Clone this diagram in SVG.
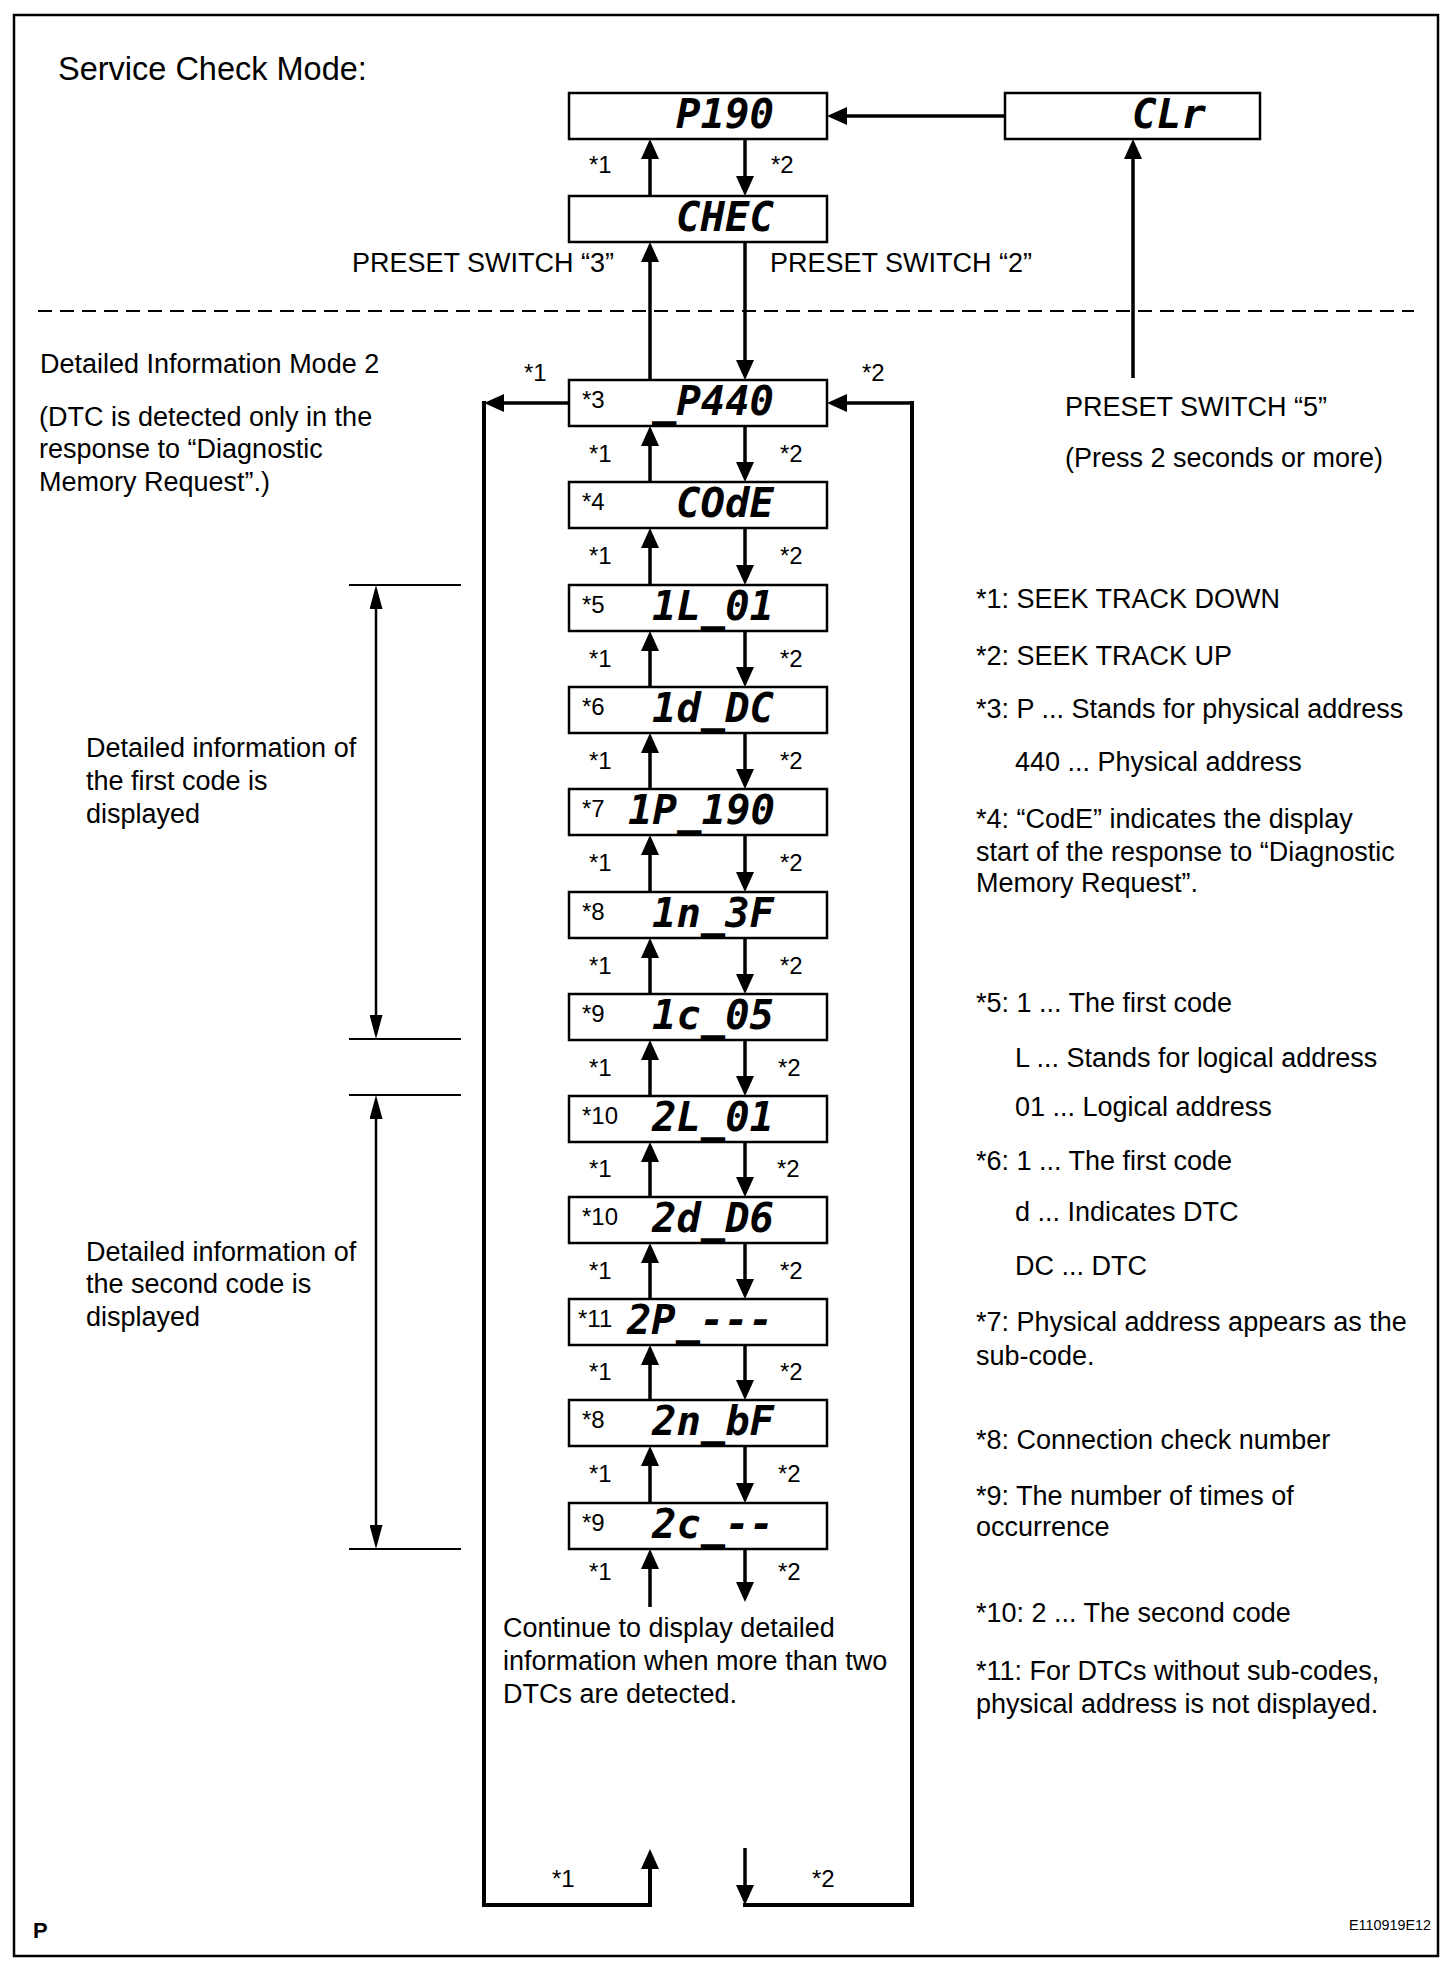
<svg xmlns="http://www.w3.org/2000/svg" width="1456" height="1980" viewBox="0 0 1456 1980">
<style>
.box{fill:#fff;stroke:#000;stroke-width:2.5}
.lcd{font-family:"DejaVu Sans Mono",monospace;font-style:italic;font-weight:bold;font-size:41px;fill:#000}
.t{font-family:"Liberation Sans",Arial,sans-serif;font-size:27px;fill:#000}
.s{font-size:24px}
.big{font-size:32.5px}
.c{stroke:#000;stroke-width:3.5;fill:none}
.loop{stroke:#000;stroke-width:4;fill:none;stroke-linecap:square;stroke-linejoin:miter}
.br{stroke:#000;stroke-width:2.5;fill:none}
.tick{stroke:#000;stroke-width:1.8}
</style>
<defs>
<marker id="ah" viewBox="0 0 20 18" refX="10" refY="9" markerWidth="20" markerHeight="18" orient="auto" markerUnits="userSpaceOnUse"><path d="M0,0 L20,9 L0,18 z" fill="#000"/></marker>
<marker id="ahs" viewBox="0 0 24 13" refX="12" refY="6.5" markerWidth="24" markerHeight="13" orient="auto-start-reverse" markerUnits="userSpaceOnUse"><path d="M0,0 L24,6.5 L0,13 z" fill="#000"/></marker>
</defs>
<rect x="14" y="15" width="1424" height="1941" fill="#fff" stroke="#000" stroke-width="2.5"/>

<text class="t big" x="58" y="80">Service Check Mode:</text>
<line x1="38" y1="311" x2="1414" y2="311" stroke="#000" stroke-width="2" stroke-dasharray="14 8"/>

<g id="connectors">
<line class="c" x1="745" y1="139" x2="745" y2="186" marker-end="url(#ah)"/>
<line class="c" x1="650" y1="196" x2="650" y2="149" marker-end="url(#ah)"/>
<line class="c" x1="1005" y1="116" x2="837" y2="116" marker-end="url(#ah)"/>
<line class="c" x1="1133" y1="378" x2="1133" y2="149" marker-end="url(#ah)"/>
<line class="c" x1="745" y1="242" x2="745" y2="370" marker-end="url(#ah)"/>
<line class="c" x1="650" y1="380" x2="650" y2="252" marker-end="url(#ah)"/>
<line class="c" x1="745" y1="426" x2="745" y2="472" marker-end="url(#ah)"/>
<line class="c" x1="650" y1="482" x2="650" y2="436" marker-end="url(#ah)"/>
<line class="c" x1="745" y1="528" x2="745" y2="575" marker-end="url(#ah)"/>
<line class="c" x1="650" y1="585" x2="650" y2="538" marker-end="url(#ah)"/>
<line class="c" x1="745" y1="631" x2="745" y2="677" marker-end="url(#ah)"/>
<line class="c" x1="650" y1="687" x2="650" y2="641" marker-end="url(#ah)"/>
<line class="c" x1="745" y1="733" x2="745" y2="779" marker-end="url(#ah)"/>
<line class="c" x1="650" y1="789" x2="650" y2="743" marker-end="url(#ah)"/>
<line class="c" x1="745" y1="835" x2="745" y2="882" marker-end="url(#ah)"/>
<line class="c" x1="650" y1="892" x2="650" y2="845" marker-end="url(#ah)"/>
<line class="c" x1="745" y1="938" x2="745" y2="984" marker-end="url(#ah)"/>
<line class="c" x1="650" y1="994" x2="650" y2="948" marker-end="url(#ah)"/>
<line class="c" x1="745" y1="1040" x2="745" y2="1086" marker-end="url(#ah)"/>
<line class="c" x1="650" y1="1096" x2="650" y2="1050" marker-end="url(#ah)"/>
<line class="c" x1="745" y1="1142" x2="745" y2="1187" marker-end="url(#ah)"/>
<line class="c" x1="650" y1="1197" x2="650" y2="1152" marker-end="url(#ah)"/>
<line class="c" x1="745" y1="1243" x2="745" y2="1289" marker-end="url(#ah)"/>
<line class="c" x1="650" y1="1299" x2="650" y2="1253" marker-end="url(#ah)"/>
<line class="c" x1="745" y1="1345" x2="745" y2="1390" marker-end="url(#ah)"/>
<line class="c" x1="650" y1="1400" x2="650" y2="1355" marker-end="url(#ah)"/>
<line class="c" x1="745" y1="1446" x2="745" y2="1493" marker-end="url(#ah)"/>
<line class="c" x1="650" y1="1503" x2="650" y2="1456" marker-end="url(#ah)"/>
<line class="c" x1="745" y1="1549" x2="745" y2="1592" marker-end="url(#ah)"/>
<line class="c" x1="650" y1="1607" x2="650" y2="1559" marker-end="url(#ah)"/>
<line class="c" x1="569" y1="403" x2="494" y2="403" marker-end="url(#ah)"/>
<polyline class="loop" points="484,403 484,1905 650,1905 650,1859" marker-end="url(#ah)"/>
<line class="c" x1="912" y1="403" x2="837" y2="403" marker-end="url(#ah)"/>
<polyline class="loop" points="912,403 912,1905 745,1905"/>
<line class="c" x1="745" y1="1848" x2="745" y2="1895" marker-end="url(#ah)"/>
<line class="tick" x1="349" y1="585" x2="461" y2="585"/>
<line class="tick" x1="349" y1="1039" x2="461" y2="1039"/>
<line class="br" x1="376" y1="597" x2="376" y2="1027" marker-start="url(#ahs)" marker-end="url(#ahs)"/>
<line class="tick" x1="349" y1="1095" x2="461" y2="1095"/>
<line class="tick" x1="349" y1="1549" x2="461" y2="1549"/>
<line class="br" x1="376" y1="1107" x2="376" y2="1537" marker-start="url(#ahs)" marker-end="url(#ahs)"/>
</g>

<g id="arrow-labels" class="t s">
<text x="589" y="173">*1</text><text x="771" y="173">*2</text>
<text x="524" y="381">*1</text><text x="862" y="381">*2</text>
<text x="589" y="462">*1</text><text x="780" y="462">*2</text>
<text x="589" y="564">*1</text><text x="780" y="564">*2</text>
<text x="589" y="667">*1</text><text x="780" y="667">*2</text>
<text x="589" y="769">*1</text><text x="780" y="769">*2</text>
<text x="589" y="871">*1</text><text x="780" y="871">*2</text>
<text x="589" y="974">*1</text><text x="780" y="974">*2</text>
<text x="589" y="1076">*1</text><text x="778" y="1076">*2</text>
<text x="589" y="1177">*1</text><text x="777" y="1177">*2</text>
<text x="589" y="1279">*1</text><text x="780" y="1279">*2</text>
<text x="589" y="1380">*1</text><text x="780" y="1380">*2</text>
<text x="589" y="1482">*1</text><text x="778" y="1482">*2</text>
<text x="589" y="1580">*1</text><text x="778" y="1580">*2</text>
<text x="552" y="1887">*1</text><text x="812" y="1887">*2</text>
</g>

<g id="n-p190"><rect class="box" x="569" y="93" width="258" height="46"/><text class="lcd" x="676" y="128" textLength="98" lengthAdjust="spacingAndGlyphs">P190</text></g>
<g id="n-clr"><rect class="box" x="1005" y="93" width="255" height="46"/><text class="lcd" x="1132" y="128" textLength="74" lengthAdjust="spacingAndGlyphs">CLr</text></g>
<g id="n-chec"><rect class="box" x="569" y="196" width="258" height="46"/><text class="lcd" x="676" y="231" textLength="98" lengthAdjust="spacingAndGlyphs">CHEC</text></g>
<g id="n-p440"><rect class="box" x="569" y="380" width="258" height="46"/><text class="t s" x="582" y="408">*3</text><text class="lcd" x="652" y="414.5" textLength="122" lengthAdjust="spacingAndGlyphs">_P440</text></g>
<g id="n-code"><rect class="box" x="569" y="482" width="258" height="46"/><text class="t s" x="582" y="510">*4</text><text class="lcd" x="676" y="517" textLength="98" lengthAdjust="spacingAndGlyphs">COdE</text></g>
<g id="n-1l01"><rect class="box" x="569" y="585" width="258" height="46"/><text class="t s" x="582" y="613">*5</text><text class="lcd" x="652" y="619.5" textLength="122" lengthAdjust="spacingAndGlyphs">1L_01</text></g>
<g id="n-1ddc"><rect class="box" x="569" y="687" width="258" height="46"/><text class="t s" x="582" y="715">*6</text><text class="lcd" x="652" y="721.5" textLength="122" lengthAdjust="spacingAndGlyphs">1d_DC</text></g>
<g id="n-1p190"><rect class="box" x="569" y="789" width="258" height="46"/><text class="t s" x="582" y="817">*7</text><text class="lcd" x="628" y="823.5" textLength="147" lengthAdjust="spacingAndGlyphs">1P_190</text></g>
<g id="n-1n3f"><rect class="box" x="569" y="892" width="258" height="46"/><text class="t s" x="582" y="920">*8</text><text class="lcd" x="652" y="926.5" textLength="122" lengthAdjust="spacingAndGlyphs">1n_3F</text></g>
<g id="n-1c05"><rect class="box" x="569" y="994" width="258" height="46"/><text class="t s" x="582" y="1022">*9</text><text class="lcd" x="652" y="1028.5" textLength="122" lengthAdjust="spacingAndGlyphs">1c_05</text></g>
<g id="n-2l01"><rect class="box" x="569" y="1096" width="258" height="46"/><text class="t s" x="582" y="1124">*10</text><text class="lcd" x="652" y="1130.5" textLength="122" lengthAdjust="spacingAndGlyphs">2L_01</text></g>
<g id="n-2dd6"><rect class="box" x="569" y="1197" width="258" height="46"/><text class="t s" x="582" y="1225">*10</text><text class="lcd" x="652" y="1231.5" textLength="122" lengthAdjust="spacingAndGlyphs">2d_D6</text></g>
<g id="n-2p"><rect class="box" x="569" y="1299" width="258" height="46"/><text class="t s" x="578" y="1327">*11</text><text class="lcd" x="627" y="1333.5" textLength="146" lengthAdjust="spacingAndGlyphs">2P_---</text></g>
<g id="n-2nbf"><rect class="box" x="569" y="1400" width="258" height="46"/><text class="t s" x="582" y="1428">*8</text><text class="lcd" x="652" y="1434.5" textLength="122" lengthAdjust="spacingAndGlyphs">2n_bF</text></g>
<g id="n-2c"><rect class="box" x="569" y="1503" width="258" height="46"/><text class="t s" x="582" y="1531">*9</text><text class="lcd" x="652" y="1537.5" textLength="122" lengthAdjust="spacingAndGlyphs">2c_--</text></g>

<g id="labels" class="t">
<text x="352" y="272">PRESET SWITCH “3”</text>
<text x="770" y="272">PRESET SWITCH “2”</text>
<text x="1065" y="416">PRESET SWITCH “5”</text>
<text x="1065" y="467">(Press 2 seconds or more)</text>
<text x="40" y="373">Detailed Information Mode 2</text>
<text x="39" y="426">(DTC is detected only in the</text>
<text x="39" y="458">response to “Diagnostic</text>
<text x="39" y="491">Memory Request”.)</text>
<text x="86" y="757">Detailed information of</text>
<text x="86" y="790">the first code is</text>
<text x="86" y="823">displayed</text>
<text x="86" y="1261">Detailed information of</text>
<text x="86" y="1293">the second code is</text>
<text x="86" y="1326">displayed</text>
<text x="503" y="1637">Continue to display detailed</text>
<text x="503" y="1670">information when more than two</text>
<text x="503" y="1703">DTCs are detected.</text>
</g>

<g id="legend" class="t">
<text x="976" y="608">*1: SEEK TRACK DOWN</text>
<text x="976" y="665">*2: SEEK TRACK UP</text>
<text x="976" y="718">*3: P ... Stands for physical address</text>
<text x="1015" y="771">440 ... Physical address</text>
<text x="976" y="828">*4: “CodE” indicates the display</text>
<text x="976" y="861">start of the response to “Diagnostic</text>
<text x="976" y="892">Memory Request”.</text>
<text x="976" y="1012">*5: 1 ... The first code</text>
<text x="1015" y="1067">L ... Stands for logical address</text>
<text x="1015" y="1116">01 ... Logical address</text>
<text x="976" y="1170">*6: 1 ... The first code</text>
<text x="1015" y="1221">d ... Indicates DTC</text>
<text x="1015" y="1275">DC ... DTC</text>
<text x="976" y="1331">*7: Physical address appears as the</text>
<text x="976" y="1365">sub-code.</text>
<text x="976" y="1449">*8: Connection check number</text>
<text x="976" y="1505">*9: The number of times of</text>
<text x="976" y="1536">occurrence</text>
<text x="976" y="1622">*10: 2 ... The second code</text>
<text x="976" y="1680">*11: For DTCs without sub-codes,</text>
<text x="976" y="1713">physical address is not displayed.</text>
</g>

<text x="33" y="1938" font-family="Liberation Sans, Arial, sans-serif" font-size="22" font-weight="bold">P</text>
<text x="1349" y="1930" font-family="Liberation Sans, Arial, sans-serif" font-size="15" textLength="82" lengthAdjust="spacingAndGlyphs">E110919E12</text>
</svg>
